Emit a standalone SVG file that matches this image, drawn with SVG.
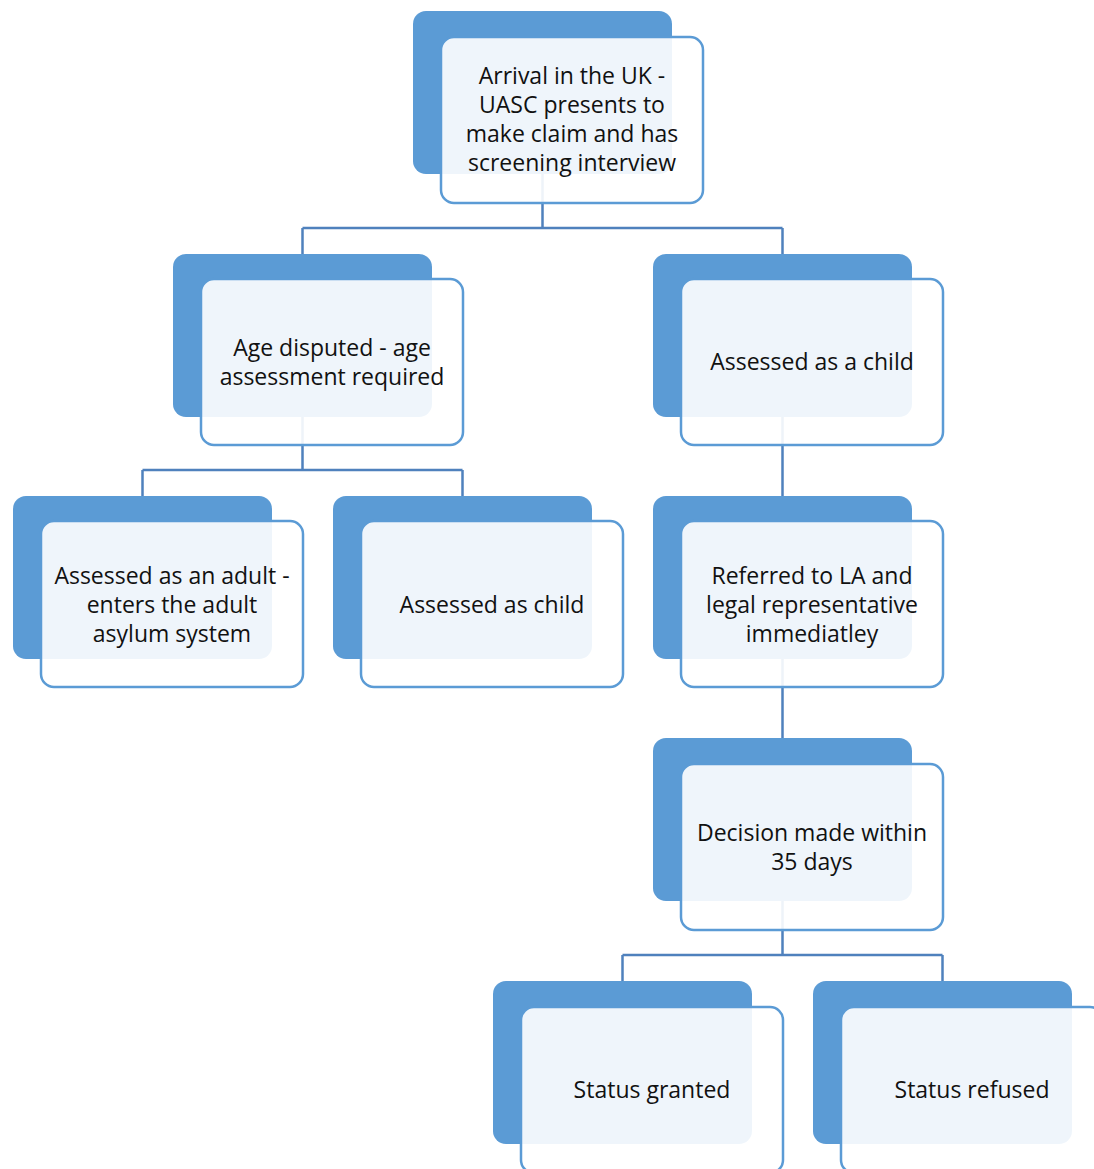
<svg xmlns="http://www.w3.org/2000/svg" width="1094" height="1169" viewBox="0 0 1094 1169">
<style>
.back{fill:#5B9BD5;}
.front{fill:#FFFFFF;fill-opacity:0.9;stroke:#5B9BD5;stroke-width:2.5;}
.conn{fill:none;stroke:#4F81BD;stroke-width:2.5;}
text{font-family:"Open Sans","Liberation Sans",sans-serif;font-size:23px;fill:#111;text-anchor:middle;}
</style>
<rect width="1094" height="1169" fill="#FFFFFF"/>
<g id="connectors">
<path class="conn" d="M542.5,174 V228 M302.5,228 H782.5 M302.5,228 V254 M782.5,228 V254"/>
<path class="conn" d="M302.5,417 V470 M142.5,470 H462.5 M142.5,470 V496 M462.5,470 V496"/>
<path class="conn" d="M782.5,417 V496"/>
<path class="conn" d="M782.5,659 V738"/>
<path class="conn" d="M782.5,901 V955 M622.5,955 H942.5 M622.5,955 V981 M942.5,955 V981"/>
</g>
<g id="n1">
<rect class="back" x="413" y="11" width="259" height="163" rx="13"/>
<rect class="front" x="441" y="37" width="262" height="166" rx="13"/>
<text x="572" y="84">Arrival in the UK -</text>
<text x="572" y="113">UASC presents to</text>
<text x="572" y="142">make claim and has</text>
<text x="572" y="171">screening interview</text>
</g>
<g id="n2">
<rect class="back" x="173" y="254" width="259" height="163" rx="13"/>
<rect class="front" x="201" y="279" width="262" height="166" rx="13"/>
<text x="332" y="356">Age disputed - age</text>
<text x="332" y="385">assessment required</text>
</g>
<g id="n3">
<rect class="back" x="653" y="254" width="259" height="163" rx="13"/>
<rect class="front" x="681" y="279" width="262" height="166" rx="13"/>
<text x="812" y="370">Assessed as a child</text>
</g>
<g id="n4">
<rect class="back" x="13" y="496" width="259" height="163" rx="13"/>
<rect class="front" x="41" y="521" width="262" height="166" rx="13"/>
<text x="172" y="584">Assessed as an adult -</text>
<text x="172" y="613">enters the adult</text>
<text x="172" y="642">asylum system</text>
</g>
<g id="n5">
<rect class="back" x="333" y="496" width="259" height="163" rx="13"/>
<rect class="front" x="361" y="521" width="262" height="166" rx="13"/>
<text x="492" y="613">Assessed as child</text>
</g>
<g id="n6">
<rect class="back" x="653" y="496" width="259" height="163" rx="13"/>
<rect class="front" x="681" y="521" width="262" height="166" rx="13"/>
<text x="812" y="584">Referred to LA and</text>
<text x="812" y="613">legal representative</text>
<text x="812" y="642">immediatley</text>
</g>
<g id="n7">
<rect class="back" x="653" y="738" width="259" height="163" rx="13"/>
<rect class="front" x="681" y="764" width="262" height="166" rx="13"/>
<text x="812" y="841">Decision made within</text>
<text x="812" y="870">35 days</text>
</g>
<g id="n8">
<rect class="back" x="493" y="981" width="259" height="163" rx="13"/>
<rect class="front" x="521" y="1007" width="262" height="166" rx="13"/>
<text x="652" y="1098">Status granted</text>
</g>
<g id="n9">
<rect class="back" x="813" y="981" width="259" height="163" rx="13"/>
<rect class="front" x="841" y="1007" width="262" height="166" rx="13"/>
<text x="972" y="1098">Status refused</text>
</g>
</svg>
